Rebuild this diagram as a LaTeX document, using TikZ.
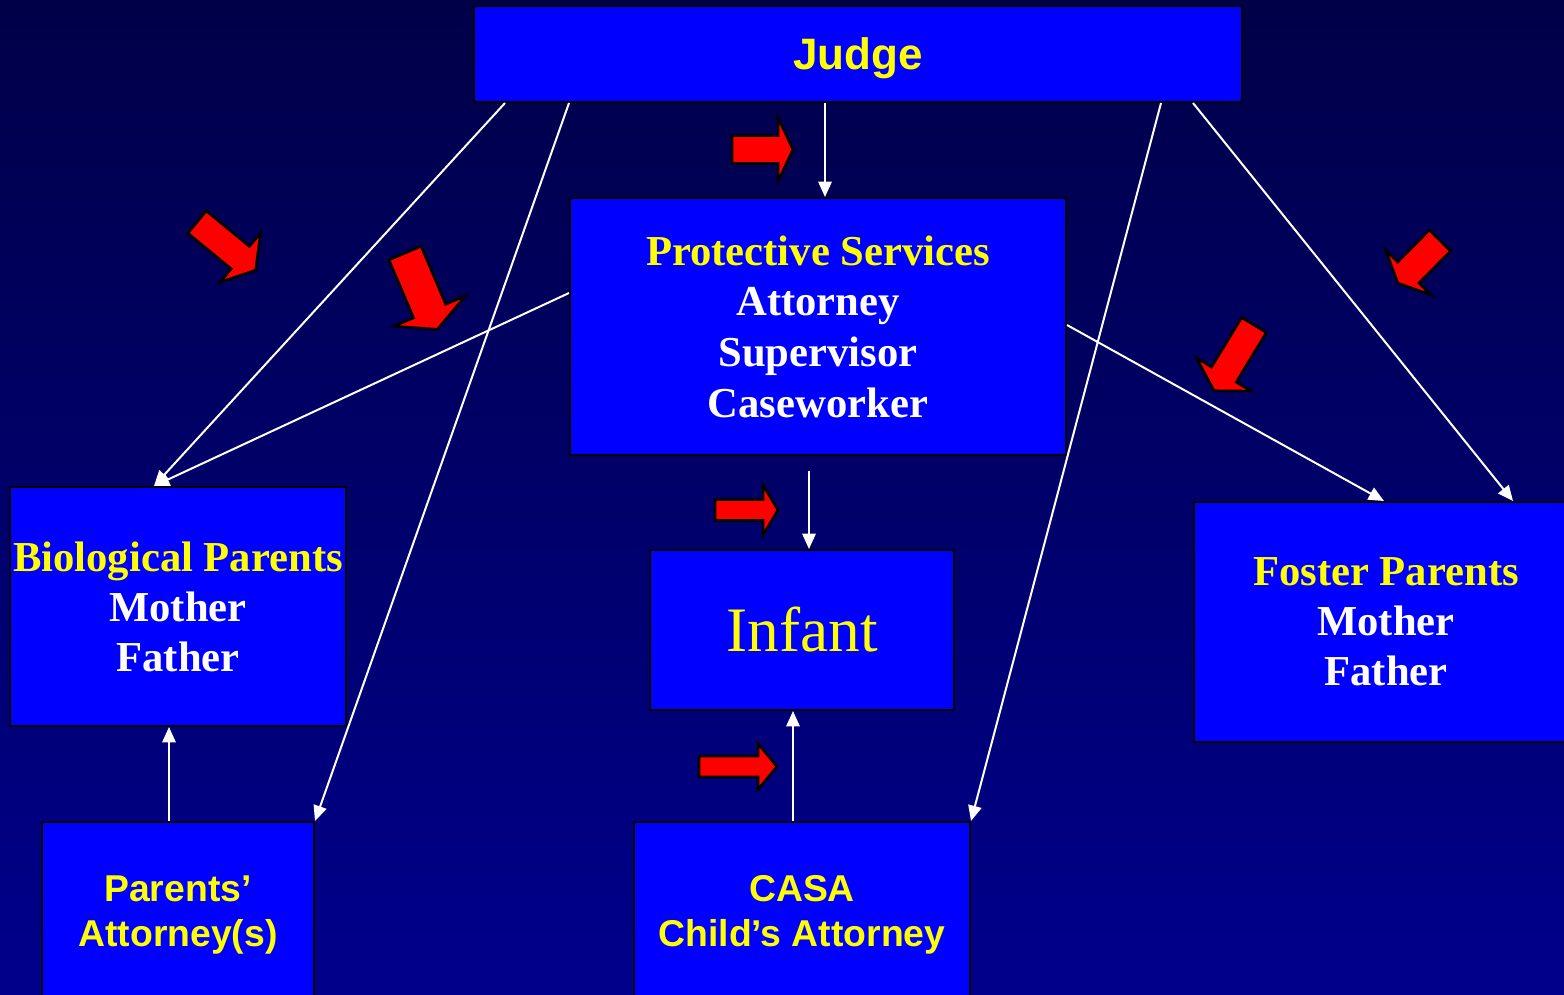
\documentclass[tikz,border=0pt]{standalone}
\usepackage{fontspec}
\setmainfont{Liberation Serif}
\newfontfamily\arialfont{Liberation Sans}
\usetikzlibrary{arrows.meta,calc}

\definecolor{bgtop}{RGB}{0,0,72}
\definecolor{bgbottom}{RGB}{0,0,140}
\definecolor{boxblue}{RGB}{0,0,255}
\definecolor{txtyellow}{RGB}{255,255,0}

% red block arrow: back centre (#1,#2), screen angle #3 (clockwise from +x),
% body length #4, head length #5, body half-width #6, head half-width #7
\newcommand\redarrow[7]{%
  \begin{scope}[shift={(#1,#2)}, rotate=-#3]
    \filldraw[blockarrow] (0,-#6) -- (#4,-#6) -- (#4,-#7) -- ({#4+#5},0)
      -- (#4,#7) -- (#4,#6) -- (0,#6) -- cycle;
  \end{scope}}

\begin{document}
\begin{tikzpicture}[x=0.75pt, y=-0.75pt,
  box/.style={draw=black, line width=1.5pt, fill=boxblue, inner sep=0pt,
    align=center, anchor=center},
  serifbig/.style={font={\bfseries\fontsize{32pt}{38pt}\selectfont}},
  sansbox/.style={font={\arialfont\bfseries\fontsize{28pt}{33.75pt}\selectfont},
    text depth=0pt},
  link/.style={draw=white, line width=1.5pt, -{Triangle[length=11.5pt,width=10pt]}},
  blockarrow/.style={fill=red, draw=black, line width=2pt, line join=miter}]

\useasboundingbox (0,0) rectangle (1564,995);
\clip (0,0) rectangle (1564,995);
\shade[top color=bgtop, bottom color=bgbottom] (0,0) rectangle (1564,995);

% boxes
\node[box, minimum width=768*0.75pt, minimum height=96*0.75pt, text depth=0pt,
  font={\arialfont\bfseries\fontsize{33pt}{38pt}\selectfont}, text=txtyellow]
  (judge) at (858,54) {Judge};
\node[box, serifbig, text=white, minimum width=496*0.75pt, minimum height=257*0.75pt]
  (cps) at (818,326.5)
  {\textcolor{txtyellow}{Protective Services}\\Attorney\\Supervisor\\Caseworker};
\node[box, serifbig, text=white, minimum width=336*0.75pt, minimum height=239*0.75pt,
  font={\bfseries\fontsize{32pt}{37.5pt}\selectfont}]
  (bio) at (178,606.5)
  {\textcolor{txtyellow}{Biological Parents}\\Mother\\Father};
\node[box, minimum width=304*0.75pt, minimum height=160*0.75pt,
  font={\fontsize{47.5pt}{54pt}\selectfont}, text=txtyellow]
  (infant) at (802,630) {Infant};
\node[box, serifbig, text=white, minimum width=384*0.75pt, minimum height=240*0.75pt,
  font={\bfseries\fontsize{32pt}{37.5pt}\selectfont}]
  (foster) at (1386,622)
  {\textcolor{txtyellow}{Foster Parents}\\Mother\\Father};
\node[box, sansbox, text=txtyellow, minimum width=272*0.75pt, minimum height=178*0.75pt]
  (patty) at (178,911) {Parents’\\Attorney(s)};
\node[box, sansbox, text=txtyellow, minimum width=336*0.75pt, minimum height=178*0.75pt]
  (casa) at (802,911) {CASA\\Child’s Attorney};

% connectors
\draw[link] ($(judge.south west)+(352,0)$) -- ($(cps.north west)+(256,0)$);
\draw[link] ($(judge.south west)+(32,0)$) -- ($(bio.north west)+(145,0)$);
\draw[link] ($(judge.south west)+(96,0)$) -- (patty.north east);
\draw[link] ($(cps.north west)+(0,96)$) -- ($(bio.north west)+(145,0)$);
\draw[link] ($(cps.south west)+(240,15)$) -- ($(infant.north west)+(160,0)$);
\draw[link] ($(cps.north east)+(0,128)$) -- ($(foster.north west)+(191,0)$);
\draw[link] ($(judge.south west)+(688,0)$) -- (casa.north east);
\draw[link] ($(judge.south west)+(720,0)$) -- ($(foster.north west)+(320,0)$);
\draw[link] ($(casa.north west)+(160,0)$) -- ($(infant.south west)+(144,0)$);
\draw[link] ($(patty.north west)+(128,0)$) -- ($(bio.south west)+(160,0)$);

% red direction markers
\redarrow{732}{149.5}{0}{46}{15}{14}{32}
\redarrow{197}{222}{39.4}{56}{20}{14.5}{32}
\redarrow{405}{253}{67}{63}{20}{17.5}{39}
\redarrow{1440}{240.5}{134.7}{45}{15}{15}{32}
\redarrow{1254}{325}{121.3}{58}{19}{14.5}{32}
\redarrow{715}{510}{0}{48}{15}{10.5}{25}
\redarrow{699}{766.5}{0}{59}{19}{10.5}{23}

\end{tikzpicture}
\end{document}
